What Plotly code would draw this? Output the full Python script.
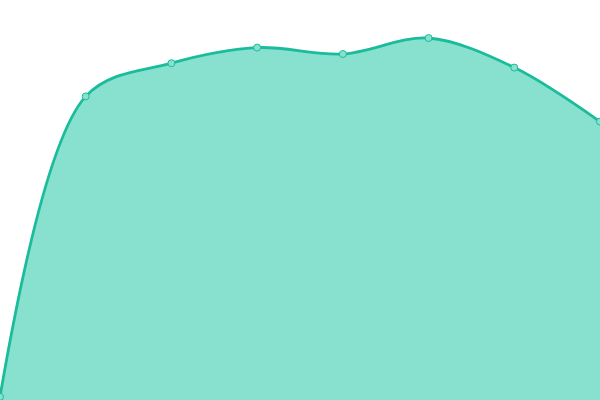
import plotly.graph_objects as go

# categories and series values
categories = ["A", "B", "C", "D", "E", "F", "G", "H"]
values = [0.8, 75.9, 84.2, 88.1, 86.5, 90.5, 83.1, 69.6]

LINE = "#1ABC9C"
FILL = "#88E0CF"

fig = go.Figure()
fig.add_trace(go.Scatter(
    x=categories, y=values,
    mode="lines+markers",
    line=dict(color=LINE, width=2.8, shape="spline", smoothing=0.95),
    marker=dict(size=7, color=FILL, line=dict(color=LINE, width=1)),
    fill="tozeroy", fillcolor=FILL,
    hoverinfo="skip",
))

fig.update_layout(
    width=600, height=400,
    margin=dict(l=0, r=0, t=0, b=0),
    plot_bgcolor="white", paper_bgcolor="white",
    showlegend=False,
    xaxis=dict(visible=False, range=[0, 7]),
    yaxis=dict(visible=False, range=[0, 100]),
)

# drop the page's default body margin so the chart fills the window
fig.write_html("out.html", config={"displayModeBar": False},
               post_script="document.body.style.margin='0';")
